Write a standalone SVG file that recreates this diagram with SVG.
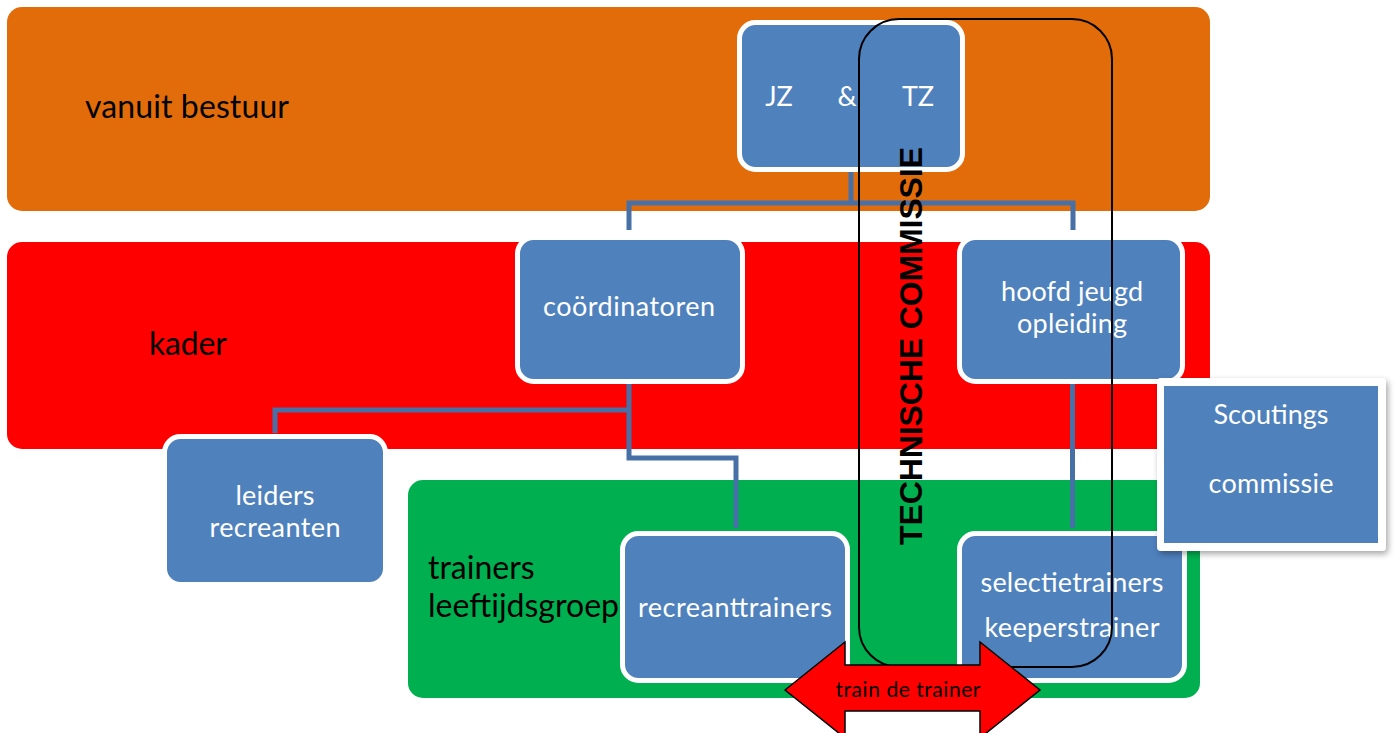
<svg xmlns="http://www.w3.org/2000/svg" width="1395" height="733" viewBox="0 0 1395 733">
<style>
.band{stroke:none}
.node{fill:#4f81bd;stroke:#fff;stroke-width:5}
.lbl{font-family:Lato,"Open Sans",sans-serif;font-size:32px;fill:#000}
.nt{font-family:Lato,"Open Sans",sans-serif;font-size:27px;fill:#fff;text-anchor:middle}
.conn{fill:none;stroke:#4770a6;stroke-width:5;stroke-linejoin:miter}
</style>
<defs>
<filter id="sh" x="-10%" y="-10%" width="125%" height="125%">
<feDropShadow dx="2" dy="3" stdDeviation="3" flood-color="#000" flood-opacity="0.35"/>
</filter>
</defs>
<rect width="1395" height="733" fill="#fff"/>
<g id="bands">
<rect class="band" x="7" y="7" width="1203" height="204" rx="15" fill="#e36c0a"/>
<rect class="band" x="7" y="242" width="1203" height="207" rx="15" fill="#ff0000"/>
<rect class="band" x="408" y="480" width="792" height="218" rx="15" fill="#00b050"/>
<text class="lbl" x="85" y="118" textLength="204">vanuit bestuur</text>
<text class="lbl" x="149" y="355" textLength="78">kader</text>
<text class="lbl" x="428" y="579">trainers</text>
<text class="lbl" x="428" y="617" textLength="191">leeftijdsgroep</text>
</g>
<g id="connectors">
<path class="conn" d="M851 172 V203 M629 230 V203 H1073 V230"/>
<path class="conn" d="M629 384 V458 H736 V528 M629 410 H275 V433"/>
<path class="conn" d="M1072.5 384 V528"/>
</g>
<g id="node-jztz">
<rect class="node" x="739.5" y="22.5" width="223" height="147" rx="16"/>
<text class="nt" x="779" y="106">JZ</text>
<text class="nt" x="847" y="106">&amp;</text>
<text class="nt" x="918" y="106">TZ</text>
</g>
<g id="node-coordinatoren">
<rect class="node" x="517.5" y="237.5" width="225" height="144" rx="16"/>
<text class="nt" x="629" y="316" textLength="172">coördinatoren</text>
</g>
<g id="node-hoofd">
<rect class="node" x="959.5" y="237.5" width="223" height="144" rx="16"/>
<text class="nt" x="1072" y="301" textLength="142">hoofd jeugd</text>
<text class="nt" x="1072" y="333" textLength="110">opleiding</text>
</g>
<g id="node-leiders">
<rect class="node" x="164.5" y="436.5" width="221" height="148" rx="16" stroke-width="4"/>
<text class="nt" x="275" y="505" textLength="79">leiders</text>
<text class="nt" x="275" y="537" textLength="131">recreanten</text>
</g>
<g id="node-recreanttrainers">
<rect class="node" x="622.5" y="533.5" width="225" height="147" rx="16"/>
<text class="nt" x="735" y="617" textLength="194">recreanttrainers</text>
</g>
<g id="node-selectie">
<rect class="node" x="959.5" y="533.5" width="225" height="147" rx="16"/>
<text class="nt" x="1072" y="592" textLength="183">selectietrainers</text>
<text class="nt" x="1072" y="637" textLength="175">keeperstrainer</text>
</g>
<g id="node-scoutings">
<rect x="1157" y="378" width="229" height="173" rx="4" fill="#fff" filter="url(#sh)"/>
<rect x="1164" y="386" width="214" height="157" fill="#4f81bd"/>
<text class="nt" x="1271" y="424" textLength="115">Scoutings</text>
<text class="nt" x="1271" y="493" textLength="125">commissie</text>
</g>
<g id="technische-commissie">
<rect x="859" y="19" width="253" height="648" rx="40" fill="none" stroke="#000" stroke-width="2"/>
</g>
<g id="train-de-trainer">
<polygon points="785,690 845,642 845,665 980,665 980,642 1040,690 980,738 980,711 845,711 845,738" fill="#ff0000" stroke="#000" stroke-width="1.5"/>
<text x="908" y="697" font-family="Lato,'Open Sans',sans-serif" font-size="21" text-anchor="middle" textLength="145">train de trainer</text>
</g>
<text x="922" y="346" transform="rotate(-90 922 346)" font-family="'Liberation Sans',Arial,sans-serif" font-weight="bold" font-size="32" text-anchor="middle" textLength="398">TECHNISCHE COMMISSIE</text>
</svg>
